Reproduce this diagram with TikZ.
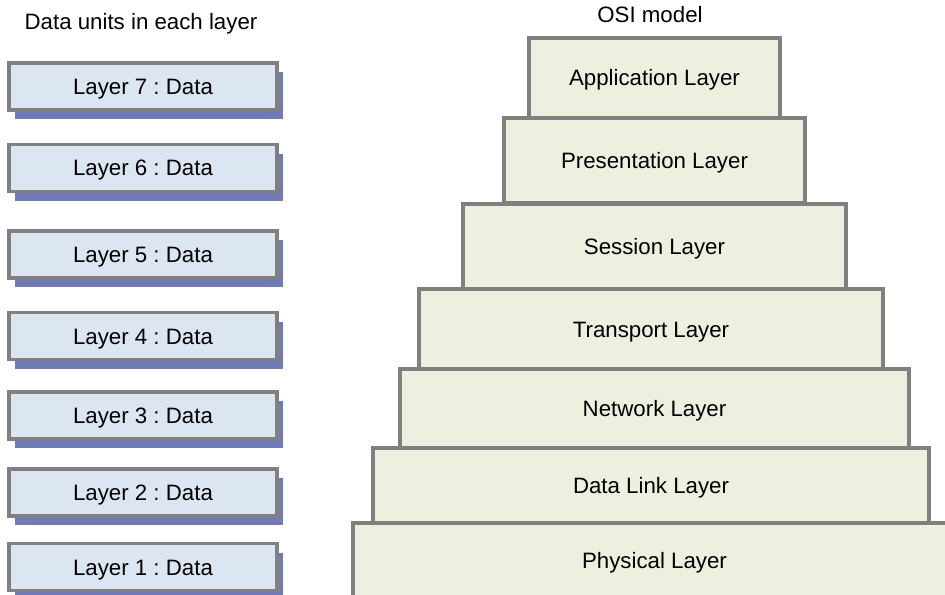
\documentclass[tikz,border=0pt]{standalone}
\usepackage{fontspec}
\setmainfont{Liberation Sans}
\usetikzlibrary{shapes,positioning,shadows}

\definecolor{unitfill}{RGB}{220,230,242}
\definecolor{unitshadow}{RGB}{111,122,183}
\definecolor{layerfill}{RGB}{235,241,222}
\definecolor{edgegray}{RGB}{128,128,128}

\tikzset{
  every node/.style={font=\fontsize{16.7}{20}\selectfont,
    text height=12pt, text depth=0pt},
  unitbox/.style={draw=edgegray, line width=2.5pt, fill=unitfill,
    minimum width=201pt, minimum height=35.25pt, inner sep=0pt,
    drop shadow={shadow xshift=4.5pt, shadow yshift=-7pt,
      fill=unitshadow, opacity=1, draw=none}},
  osilayer/.style={draw=edgegray, line width=2.5pt, fill=layerfill,
    inner sep=0pt}
}

\begin{document}
\frenchspacing
\begin{tikzpicture}[x=0.75pt,y=-0.75pt]
\path[use as bounding box, clip] (0,0) rectangle (945,595);

%Text: titles
\node (unitstitle) at (141,21.5) {Data units in each layer};
\node (osititle) at (650,14.5) {OSI model};

%Shapes: data unit boxes
\node[unitbox] (unit7) at (143,86.5) {Layer 7 : Data};
\node[unitbox] (unit6) at (143,168) {Layer 6 : Data};
\node[unitbox] (unit5) at (143,254.5) {Layer 5 : Data};
\node[unitbox] (unit4) at (143,336) {Layer 4 : Data};
\node[unitbox] (unit3) at (143,415.5) {Layer 3 : Data};
\node[unitbox] (unit2) at (143,492.5) {Layer 2 : Data};
\node[unitbox] (unit1) at (143,567) {Layer 1 : Data};

%Shapes: OSI pyramid, top to bottom
\node[osilayer, minimum width=188.25pt, minimum height=60pt] (application) at (654.5,78) {Application Layer};
\node[osilayer, minimum width=225.75pt, minimum height=63.75pt] (presentation) at (654.5,160.5) {Presentation Layer};
\node[osilayer, minimum width=287.25pt, minimum height=63.75pt] (session) at (654.5,246.5) {Session Layer};
\node[osilayer, minimum width=348pt, minimum height=60pt] (transport) at (651,329) {Transport Layer};
\node[osilayer, minimum width=381.75pt, minimum height=59.25pt] (network) at (654.5,408.5) {Network Layer};
\node[osilayer, minimum width=417pt, minimum height=56.25pt] (datalink) at (651,485.5) {Data Link Layer};
\node[osilayer, minimum width=452.25pt, minimum height=56.25pt] (physical) at (654.5,560.5) {Physical Layer};
\end{tikzpicture}
\end{document}
